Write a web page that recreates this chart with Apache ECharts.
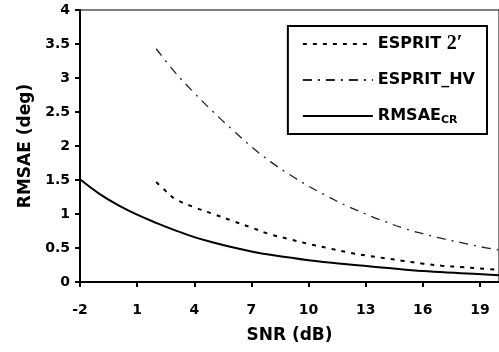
<!DOCTYPE html>
<html>
<head>
<meta charset="utf-8">
<script src="https://cdn.jsdelivr.net/npm/echarts@6/dist/echarts.min.js"></script>
<style>
  html, body { margin: 0; padding: 0; background: #fff; }
  #chart { width: 499px; height: 352px; }
</style>
</head>
<body>
<div id="chart"></div>
<script>
// SNR (dB) values
const crX = [-2, -1, 0, 1, 2, 3, 4, 5, 6, 7, 8, 10, 12, 14, 16, 18, 20]
const crY = [1.51, 1.30, 1.13, 0.99, 0.87, 0.76, 0.66, 0.58, 0.51, 0.45, 0.40, 0.32, 0.26, 0.21, 0.16, 0.13, 0.10]

const esp2X = [2, 2.5, 3, 4, 5, 6, 7, 8, 9, 10, 11, 12, 13, 14, 15, 16, 17, 18, 19, 20]
const esp2Y = [1.47, 1.34, 1.22, 1.10, 1.00, 0.90, 0.80, 0.70, 0.63, 0.56, 0.50, 0.44, 0.39, 0.35, 0.31, 0.27, 0.24, 0.22, 0.20, 0.18]

const hvX = [2, 3, 4, 5, 6, 7, 8, 9, 10, 11, 12, 13, 14, 15, 16, 17, 18, 19, 20]
const hvY = [3.43, 3.08, 2.78, 2.50, 2.24, 1.99, 1.77, 1.58, 1.41, 1.26, 1.12, 1.00, 0.89, 0.79, 0.71, 0.64, 0.58, 0.52, 0.47]

const xTicks = [-2, 1, 4, 7, 10, 13, 16, 19]

const pairs = (xs, ys) => xs.map((x, i) => [x, ys[i]])

const font = 'DejaVu Sans'

const option = {
    animation: false,
    grid: {
        left: 80,
        right: 0,
        top: 10,
        bottom: 70,
        show: true,
        borderColor: '#000',
        borderWidth: 1,
    },
    legend: {
        orient: 'vertical',
        right: 12,
        top: 26,
        backgroundColor: '#fff',
        borderColor: '#000',
        borderWidth: 2,
        borderRadius: 0,
        padding: [8, 12, 8, 14],
        itemWidth: 70,
        itemHeight: 14,
        itemGap: 18,
        itemStyle: { opacity: 0 },
        data: ['ESPRIT 2', 'ESPRIT_HV', 'RMSAE_CR'],
        textStyle: {
            fontFamily: font,
            fontWeight: 'bold',
            fontSize: 16,
            color: '#000',
            rich: {
                b: { fontFamily: font, fontWeight: 'bold', fontSize: 16, color: '#000', lineHeight: 21 },
                serif: { fontFamily: 'Liberation Serif', fontSize: 20, color: '#000', lineHeight: 21 },
                sub: { fontFamily: font, fontWeight: 'bold', fontSize: 11, color: '#000', lineHeight: 21, padding: [9, 0, 0, 0] },
            },
        },
        formatter: (name) => {
            if (name === 'ESPRIT 2') return '{b|ESPRIT }{serif|2′}'
            if (name === 'RMSAE_CR') return '{b|RMSAE}{sub|CR}'
            return '{b|' + name + '}'
        },
    },
    xAxis: {
        type: 'value',
        min: -2,
        max: 20,
        name: 'SNR (dB)',
        nameLocation: 'middle',
        nameGap: 45,
        nameTextStyle: { fontFamily: font, fontWeight: 'bold', fontSize: 17, color: '#000' },
        splitLine: { show: false },
        axisLine: { onZero: false, lineStyle: { color: '#000', width: 2 } },
        axisTick: { customValues: xTicks, length: 5, lineStyle: { color: '#000', width: 2 } },
        axisLabel: {
            customValues: xTicks,
            margin: 21,
            fontFamily: font,
            fontWeight: 'bold',
            fontSize: 14,
            color: '#000',
        },
    },
    yAxis: {
        type: 'value',
        min: 0,
        max: 4,
        interval: 0.5,
        name: 'RMSAE (deg)',
        nameLocation: 'middle',
        nameGap: 46,
        nameTextStyle: { fontFamily: font, fontWeight: 'bold', fontSize: 17, color: '#000' },
        splitLine: { show: false },
        axisLine: { onZero: false, lineStyle: { color: '#000', width: 2 } },
        axisTick: { length: 5, lineStyle: { color: '#000', width: 2 } },
        axisLabel: {
            margin: 10,
            fontFamily: font,
            fontWeight: 'bold',
            fontSize: 14,
            color: '#000',
        },
    },
    series: [
        {
            name: 'ESPRIT 2',
            type: 'line',
            smooth: 0.4,
            symbol: 'none',
            data: pairs(esp2X, esp2Y),
            lineStyle: { color: '#000', width: 2, type: [4, 6] },
            itemStyle: { color: '#000' },
        },
        {
            name: 'ESPRIT_HV',
            type: 'line',
            smooth: 0.4,
            symbol: 'none',
            data: pairs(hvX, hvY),
            lineStyle: { color: '#222', width: 1.3, type: [9, 6, 2, 6] },
            itemStyle: { color: '#222' },
        },
        {
            name: 'RMSAE_CR',
            type: 'line',
            smooth: 0.4,
            symbol: 'none',
            data: pairs(crX, crY),
            lineStyle: { color: '#000', width: 2 },
            itemStyle: { color: '#000' },
        },
    ],
}

try {
    const chart = echarts.init(document.getElementById('chart'))
    chart.setOption(option, true)
} catch (e) {}
</script>
</body>
</html>
